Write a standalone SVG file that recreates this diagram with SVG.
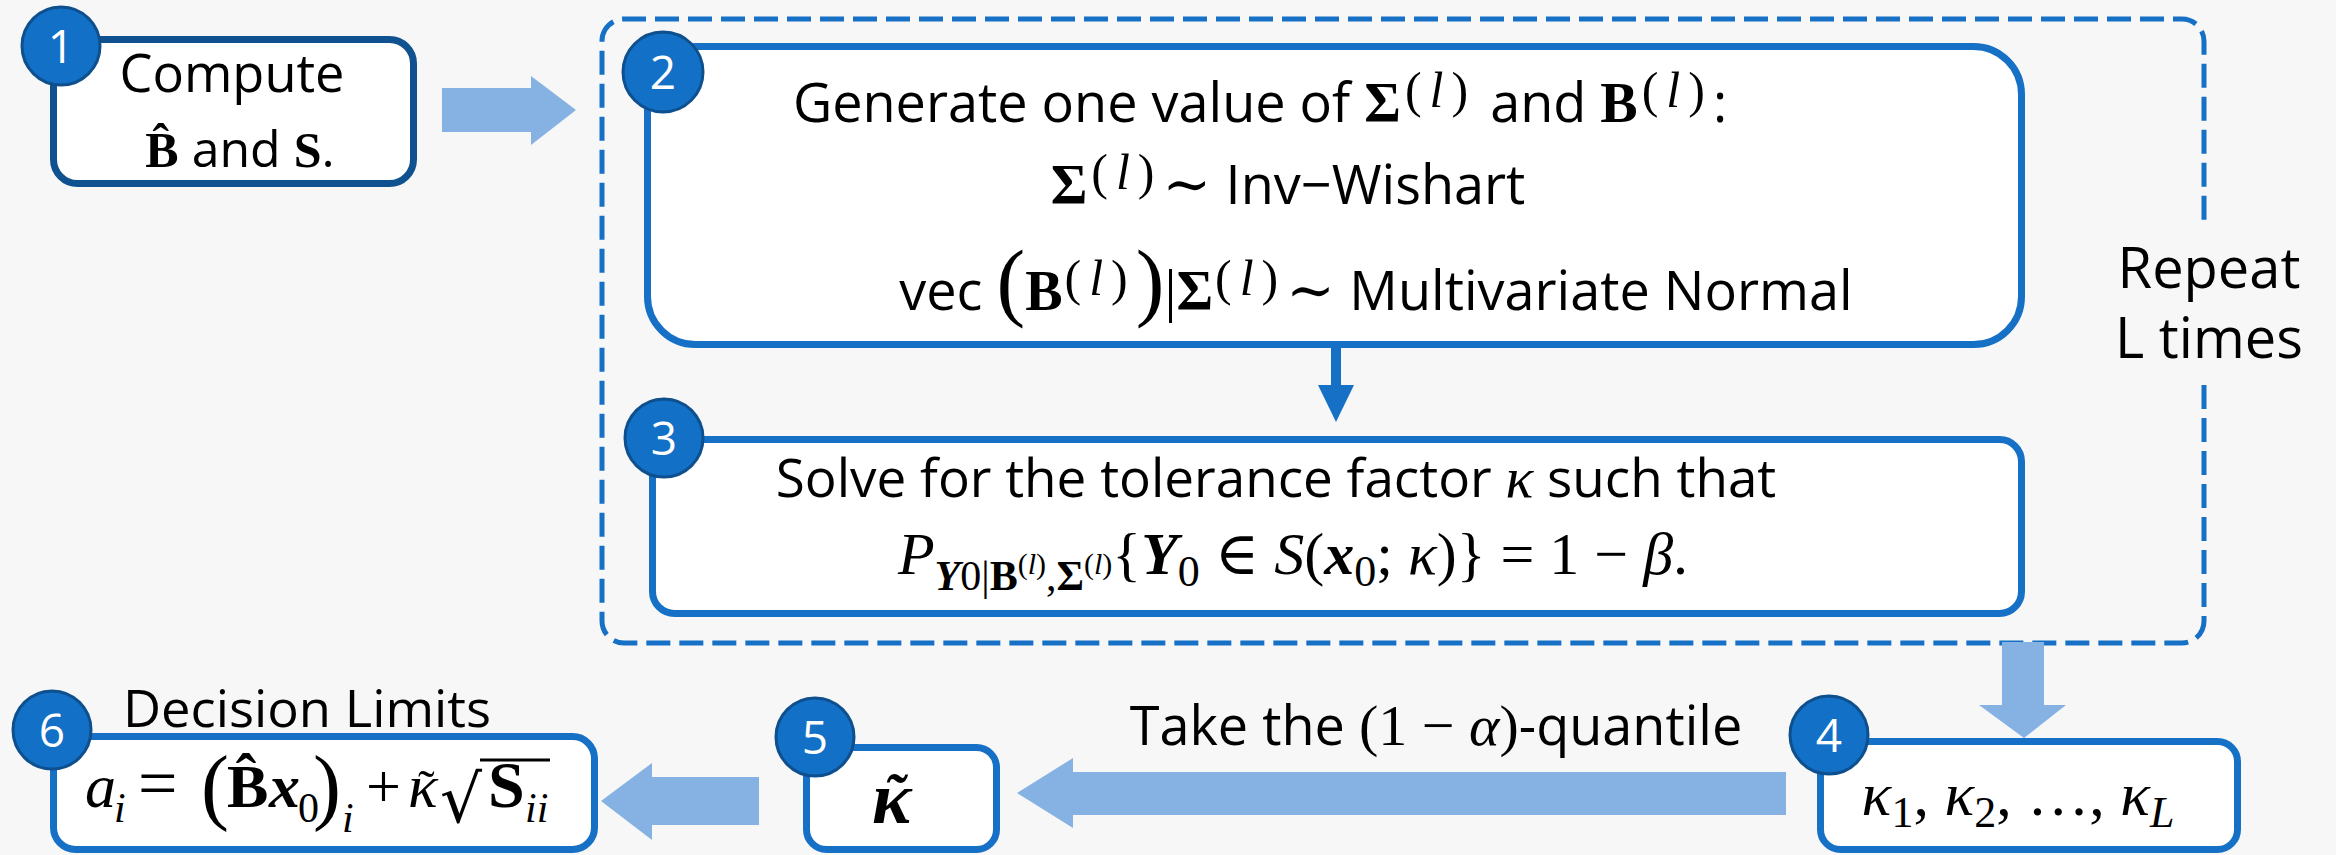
<svg xmlns="http://www.w3.org/2000/svg" width="2336" height="855" viewBox="0 0 2336 855">
<style>
.t{font-family:'Open Sans','Liberation Sans',sans-serif;fill:#000}
.m{font-family:'Liberation Serif','DejaVu Serif',serif}
.mb{font-family:'Liberation Serif','DejaVu Serif',serif;font-weight:bold}
.mi{font-family:'Liberation Serif','DejaVu Serif',serif;font-style:italic}
.mbi{font-family:'Liberation Serif','DejaVu Serif',serif;font-weight:bold;font-style:italic}
.sup{font-family:'Liberation Serif','DejaVu Serif',serif;font-size:50px;letter-spacing:8px}
.box{fill:#fff;stroke:#1570c6;stroke-width:7}
.badge{fill:#1270c6;stroke:#0e4f8e;stroke-width:3}
.num{font-family:'Open Sans','Liberation Sans',sans-serif;fill:#fff;font-size:46px;text-anchor:middle}
.fat{fill:#85b2e3}
</style>
<rect x="0" y="0" width="2336" height="855" fill="#f7f7f7"/>
<g id="repeat-loop">
<path d="M2204,385 V621 A22,22 0 0 1 2182,643 H624 A22,22 0 0 1 602,621 V41 A22,22 0 0 1 624,19 H2182 A22,22 0 0 1 2204,41 V222" fill="none" stroke="#1570c6" stroke-width="5" stroke-dasharray="24 9"/>
<text class="t" font-size="56" x="2209" y="288" text-anchor="middle">Repeat</text>
<text class="t" font-size="56" x="2209" y="358" text-anchor="middle">L times</text>
</g>
<g id="connectors">
<polygon class="fat" points="442,88 531,88 531,76 576,110 531,145 531,132 442,132"/>
<line x1="1336" y1="348" x2="1336" y2="390" stroke="#1570c6" stroke-width="10"/>
<polygon points="1318,385 1354,385 1336,422" fill="#1570c6"/>
<polygon class="fat" points="2002,642 2044,642 2044,705 2066,705 2024,738 1979,705 2002,705"/>
<polygon class="fat" points="1786,772 1073,772 1073,758 1017,793 1073,828 1073,815 1786,815"/>
<polygon class="fat" points="759,777 652,777 652,763 601,801 652,840 652,825 759,825"/>
<text class="t" font-size="54" x="1436" y="745" text-anchor="middle">Take the <tspan class="m" font-size="58">(1 − </tspan><tspan class="mi" font-size="58">α</tspan><tspan class="m" font-size="58">)</tspan>-quantile</text>
</g>
<g id="node1">
<rect x="53.5" y="39.5" width="360" height="144" rx="24" fill="#fff" stroke="#10528f" stroke-width="7"/>
<circle class="badge" cx="61" cy="46" r="39"/>
<text class="num" x="61" y="63">1</text>
<text class="t" font-size="53" x="232" y="92" text-anchor="middle" textLength="225" lengthAdjust="spacingAndGlyphs">Compute</text>
<text class="t" font-size="50" x="240" y="167" text-anchor="middle"><tspan class="mb" font-size="50">B&#x302;</tspan> and <tspan class="mb" font-size="50">S</tspan>.</text>
</g>
<g id="node2">
<rect class="box" x="647.5" y="46.5" width="1374" height="298" rx="48"/>
<circle class="badge" cx="663" cy="72" r="40"/>
<text class="num" x="663" y="89">2</text>
<text class="t" font-size="54" x="1260" y="122" text-anchor="middle">Generate one value of <tspan class="mb" font-size="56">Σ</tspan><tspan class="sup" dx="4" dy="-15">(<tspan font-style="italic">l</tspan>)</tspan><tspan dy="15"> and </tspan><tspan class="mb" font-size="56">B</tspan><tspan class="sup" dx="4" dy="-15" letter-spacing="5">(<tspan font-style="italic">l</tspan>)</tspan><tspan dy="15">:</tspan></text>
<text class="t" font-size="54" x="1288" y="204" text-anchor="middle"><tspan class="mb" font-size="56">Σ</tspan><tspan class="sup" dx="4" dy="-15">(<tspan font-style="italic">l</tspan>)</tspan><tspan class="m" font-size="58" dy="15">∼ </tspan>Inv−Wishart</text>
<text class="t" font-size="54" x="1376" y="310" text-anchor="middle">vec <tspan class="m" font-size="86">(</tspan><tspan class="mb" font-size="56">B</tspan><tspan class="sup" dx="2" dy="-15" letter-spacing="4">(<tspan font-style="italic">l</tspan>)</tspan><tspan class="m" font-size="86" dy="15">)</tspan><tspan class="m" font-size="60">|</tspan><tspan class="mb" font-size="56">Σ</tspan><tspan class="sup" dx="2" dy="-15">(<tspan font-style="italic">l</tspan>)</tspan><tspan class="m" font-size="58" dy="15">∼ </tspan>Multivariate Normal</text>
</g>
<g id="node3">
<rect class="box" x="652.5" y="439.5" width="1369" height="174" rx="22"/>
<circle class="badge" cx="664" cy="438" r="39"/>
<text class="num" x="664" y="455">3</text>
<text class="t" font-size="53" x="1276" y="497" text-anchor="middle">Solve for the tolerance factor <tspan class="mi" font-size="58">κ</tspan> such that</text>
<text class="m" font-size="60" x="1293" y="574" text-anchor="middle"><tspan class="mi">P</tspan><tspan font-size="42" dy="16"><tspan class="mbi">Y</tspan>0|<tspan class="mb">B</tspan><tspan font-size="30" dy="-16">(<tspan class="mi">l</tspan>)</tspan><tspan dy="16">,</tspan><tspan class="mb">Σ</tspan><tspan font-size="30" dy="-16">(<tspan class="mi">l</tspan>)</tspan></tspan>{<tspan class="mbi">Y</tspan><tspan font-size="44" dy="12">0</tspan><tspan dy="-12"> ∈ </tspan><tspan class="mi">S</tspan>(<tspan class="mbi">x</tspan><tspan font-size="44" dy="12">0</tspan><tspan dy="-12">; </tspan><tspan class="mi">κ</tspan>)} = 1 − <tspan class="mi">β</tspan>.</text>
</g>
<g id="node4">
<rect class="box" x="1820.5" y="741.5" width="417" height="108" rx="20"/>
<circle class="badge" cx="1829" cy="735" r="39"/>
<text class="num" x="1829" y="752">4</text>
<text class="m" font-size="62" x="2018" y="815" text-anchor="middle"><tspan class="mi">κ</tspan><tspan font-size="44" dy="12">1</tspan><tspan dy="-12">, </tspan><tspan class="mi">κ</tspan><tspan font-size="44" dy="12">2</tspan><tspan dy="-12">, …, </tspan><tspan class="mi">κ</tspan><tspan class="mi" font-size="44" dy="12">L</tspan></text>
</g>
<g id="node5">
<rect class="box" x="806.5" y="747.5" width="190" height="102" rx="20"/>
<circle class="badge" cx="815" cy="737" r="39"/>
<text class="num" x="815" y="754">5</text>
<text class="mbi" font-size="74" x="872" y="823">κ<tspan font-size="60" x="884" y="815">˜</tspan></text>
</g>
<g id="node6">
<text class="t" font-size="52" x="123" y="727" textLength="368" lengthAdjust="spacingAndGlyphs">Decision Limits</text>
<rect class="box" x="53.5" y="736.5" width="541" height="113" rx="22"/>
<circle class="badge" cx="52" cy="730" r="39"/>
<text class="num" x="52" y="747">6</text>
<text class="m" font-size="62" y="807"><tspan class="mi" x="85">a</tspan><tspan class="mi" font-size="42" x="114" y="822">i</tspan><tspan font-size="70" x="138" y="807">=</tspan><tspan font-size="84" x="201" y="814">(</tspan><tspan class="mb" x="227" y="807">B&#x302;</tspan><tspan class="mbi" x="269" y="807">x</tspan><tspan font-size="42" x="298" y="822">0</tspan><tspan font-size="84" x="313" y="814">)</tspan><tspan class="mi" font-size="42" x="342" y="832">i</tspan><tspan x="366" y="807">+</tspan><tspan class="mi" x="408">κ</tspan><tspan font-size="50" x="418" y="805">˜</tspan><tspan style="font-family:'DejaVu Serif',serif" font-size="66" x="440" y="822">√</tspan><tspan class="mb" font-size="66" x="488" y="807">S</tspan><tspan class="mi" font-size="42" x="525" y="822">ii</tspan></text>
<line x1="480" y1="760" x2="550" y2="760" stroke="#000" stroke-width="3"/>
</g>
</svg>
